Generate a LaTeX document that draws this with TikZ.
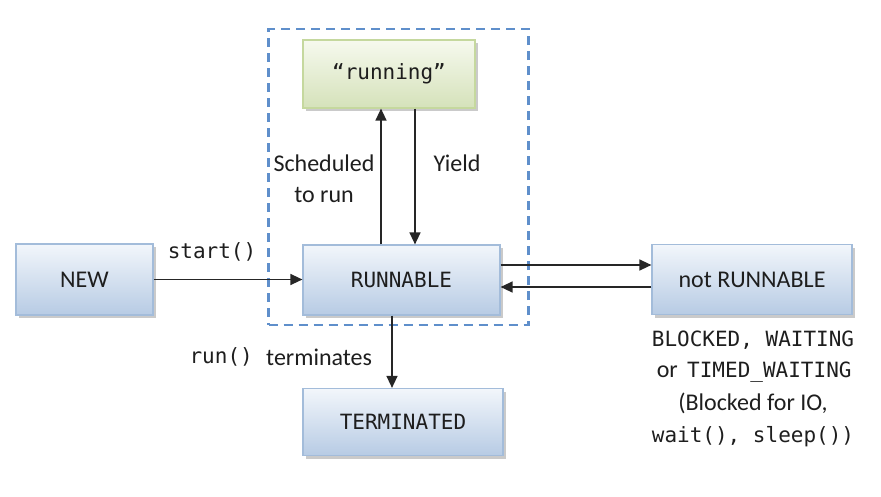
\documentclass[tikz,border=0pt]{standalone}
\usepackage{fontspec}
\setmainfont{Carlito}
\newfontfamily\monof{DejaVu Sans Mono}
\usetikzlibrary{shadows,arrows.meta}
\definecolor{txt}{HTML}{1E1E1E}
\definecolor{bluetop}{HTML}{F2F6FB}
\definecolor{bluebot}{HTML}{B7CBE4}
\definecolor{blueedge}{HTML}{A3BCDA}
\definecolor{greentop}{HTML}{F6F9EE}
\definecolor{greenbot}{HTML}{D5E2BA}
\definecolor{greenedge}{HTML}{C5D89E}
\definecolor{dashblue}{HTML}{5F8FCB}
\newcommand{\sz}{\fontsize{24}{31}\selectfont}
\newcommand{\msz}{\fontsize{21}{31}\selectfont\monof}
\tikzset{
  statebox/.style={rectangle, draw=blueedge, line width=1.2pt, top color=bluetop, bottom color=bluebot,
    drop shadow={shadow xshift=3pt, shadow yshift=-3pt, opacity=0.35, fill=black!60},
    text=txt, inner sep=0pt},
  greenbox/.style={statebox, draw=greenedge, top color=greentop, bottom color=greenbot},
  arr/.style={-{Triangle[length=12pt,width=11pt]}, line width=1.4pt, draw=black!85},
  lbl/.style={text=txt, inner sep=0pt, font=\sz},
  mlbl/.style={text=txt, inner sep=0pt, font=\msz},
  group/.style={rectangle, draw=dashblue, line width=2.2pt, dash pattern=on 9pt off 6pt, inner sep=0pt}
}
\begin{document}
\begin{tikzpicture}[x=1pt,y=-1pt]
\useasboundingbox (0,0) rectangle (881,496);
\node[group, minimum width=260pt, minimum height=296pt] (grp) at (398.5,177) {};
\node[greenbox, minimum width=172pt, minimum height=68pt, font=\msz] (running) at (389,74) {“running”};
\node[statebox, minimum width=137pt, minimum height=71pt, font=\sz] (new) at (84.5,279.5) {NEW};
\node[statebox, minimum width=197pt, minimum height=70pt, font=\msz] (runnable) at (401.5,280) {RUNNABLE};
\node[statebox, minimum width=200pt, minimum height=70pt, font=\sz] (notrun) at (752,279.5) {not RUNNABLE};
\node[statebox, minimum width=200pt, minimum height=67pt, font=\msz] (term) at (403,422) {TERMINATED};

\coordinate (schedA) at (381,245);
\coordinate (yieldA) at (415,108);
\draw[arr] (runnable.north -| schedA) -- (running.south -| schedA);
\draw[arr] (running.south -| yieldA) -- (runnable.north -| yieldA);
\draw[arr] (new.east) -- (runnable.west |- new.east);
\coordinate (fwd) at (0,265);
\coordinate (back) at (0,287);
\draw[arr] (runnable.east |- fwd) -- (notrun.west |- fwd);
\draw[arr] (notrun.west |- back) -- (runnable.east |- back);
\coordinate (termx) at (392,0);
\draw[arr] (runnable.south -| termx) -- (term.north -| termx);

\node[mlbl] (lstart) at (212,252) {start()};
\node[lbl] (lsched1) at (324,163) {Scheduled};
\node[lbl] (lsched2) at (324,195) {to run};
\node[lbl] (lyield) at (457,163) {Yield};
\node[mlbl, anchor=east] (lrun) at (253,357) {run()};
\node[lbl, anchor=west] (lterm) at (266,357) {terminates};
\node[mlbl] (ld1) at (753,340) {BLOCKED, WAITING};
\node[mlbl, anchor=west] (ld2b) at (687,372) {TIMED\_WAITING};
\node[lbl, anchor=east] (ld2a) at (678,372) {or};
\node[lbl] (ld3) at (753,403) {(Blocked for IO,};
\node[mlbl] (ld4) at (753,437) {wait(), sleep())};
\end{tikzpicture}
\end{document}
